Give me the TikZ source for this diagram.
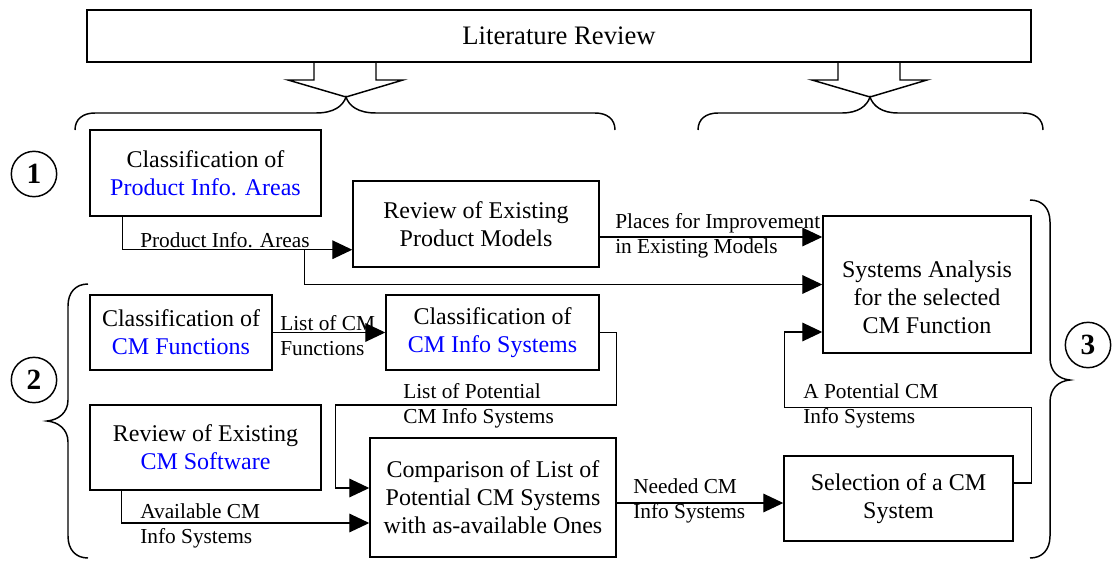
\documentclass[tikz,border=0pt]{standalone}
\usepackage{fontspec}
\setmainfont{Liberation Serif}
\usetikzlibrary{arrows.meta,calc}
\definecolor{infoblue}{RGB}{0,0,255}
\tikzset{
  box/.style={draw, line width=1.1pt, inner sep=0pt, align=center, font=\fontsize{18}{21}\selectfont},
  lbl/.style={inner sep=0pt, anchor=west, align=left, font=\fontsize{16}{18.75}\selectfont},
  flow/.style={line width=0.9pt, -{Triangle[length=15pt,width=14pt]}},
  brc/.style={line width=1.1pt},
  num/.style={draw, circle, line width=1.1pt, minimum size=34pt, inner sep=0pt, font=\fontsize{22}{22}\selectfont\bfseries}
}
\begin{document}
\begin{tikzpicture}[x=0.75pt,y=0.75pt,yscale=-1,xscale=1]
\useasboundingbox (0,0) rectangle (1112,560);

%Shape: Rectangle
\node[box, minimum width=708pt, minimum height=39pt, font=\fontsize{20}{24}\selectfont] (lit) at (559,36) {Literature Review};

%Block arrows under the literature box
\draw[brc] (314,62) -- (314,80) -- (288,80) -- (346,97) -- (403,80) -- (376,80) -- (376,62) ;
\draw[brc] (838,62) -- (838,80) -- (812,80) -- (870,97) -- (927,80) -- (900,80) -- (900,62) ;

%Braces
\draw[brc] (75,130) .. controls (75,119) and (83,113) .. (95,113) -- (316,113) .. controls (334,113) and (343,106) .. (346,97) .. controls (349,106) and (358,113) .. (376,113) -- (595,113) .. controls (607,113) and (615,119) .. (615,130) ;
\draw[brc] (698,130) .. controls (698,119) and (706,113) .. (718,113) -- (842,113) .. controls (858,113) and (867,106) .. (870,97) .. controls (873,106) and (882,113) .. (898,113) -- (1023,113) .. controls (1035,113) and (1043,119) .. (1043,130) ;
\draw[brc] (88,284) .. controls (76,284) and (68,292) .. (68,306) -- (68,400) .. controls (68,413) and (58,420) .. (47,421) .. controls (58,422) and (68,429) .. (68,442) -- (68,536) .. controls (68,550) and (76,558) .. (88,558) ;
\draw[brc] (1030,200) .. controls (1042,200) and (1050,208) .. (1050,222) -- (1050,358) .. controls (1050,371) and (1058,379) .. (1070,380) .. controls (1058,381) and (1050,389) .. (1050,402) -- (1050,536) .. controls (1050,550) and (1042,558) .. (1030,558) ;

%Numbers
\node[num] (n1) at (34,174) {1};
\node[num] (n2) at (34,380) {2};
\node[num] (n3) at (1088,345) {3};

%Shape: Rectangle
\node[box, minimum width=173.25pt, minimum height=64.5pt] (cpia) at (205.5,173) {Classification of\\\textcolor{infoblue}{Product Info. Areas}};
\node[box, minimum width=184.5pt, minimum height=64.5pt] (repm) at (476,224) {Review of Existing\\Product Models};
\node[box, minimum width=156pt, minimum height=102.75pt] (sys) at (927,284.5) {};
\node[box, draw=none] (sysT) at ($(sys.center)+(0,13)$) {Systems Analysis\\for the selected\\CM Function};
\node[box, minimum width=136.5pt, minimum height=56.25pt] (ccmf) at (181,332.5) {Classification of\\\textcolor{infoblue}{CM Functions}};
\node[box, minimum width=159.75pt, minimum height=56.25pt] (ccmi) at (492.5,332.5) {Classification of\\\textcolor{infoblue}{CM Info Systems}};
\node[box, minimum width=173.25pt, minimum height=63.75pt] (rcms) at (205.5,447.5) {Review of Existing\\\textcolor{infoblue}{CM Software}};
\node[box, minimum width=184.5pt, minimum height=89.25pt] (comp) at (493,497.5) {Comparison of List of\\Potential CM Systems\\with as-available Ones};
\node[box, minimum width=171.75pt, minimum height=63.75pt] (sel) at (898.5,498.5) {Selection of a CM\\System};

%Straight Lines
\draw[flow] ($(cpia.south west)+(33,0)$) |- ($(repm.south west)+(0,-18)$) ;
\draw[flow] ($(repm.south west)+(-48,-18)$) |- (sys.west) ;
\draw[flow] ($(repm.east)+(0,13)$) -- ($(sys.west |- repm.east)+(0,13)$) ;
\draw[flow] (ccmf.east) -- (ccmi.west) ;
\draw[flow] (ccmi.east) -- ++(17,0) |- ($(comp.west)+(-34,-92.5)$) |- ($(comp.west)+(0,-9.5)$) ;
\draw[flow] ($(rcms.south west)+(32,0)$) |- ($(comp.west)+(0,25.5)$) ;
\draw[flow] ($(comp.east)+(0,5.5)$) -- ($(sel.west)+(0,4.5)$) ;
\draw[flow] ($(sel.east)+(0,-15.5)$) -- ++(18,0) |- ($(sel.north west)+(1,-48)$) |- ($(sys.west)+(0,47.5)$) ;

% Text Node
\node[lbl] (lPia) at (140,240) {Product Info. Areas};
\node[lbl] (lPlaces) at (615,236) {Places for Improvement\\in Existing Models};
\node[lbl] (lListCM) at (280,336) {List of CM\\Functions};
\node[lbl] (lListPot) at (403,405.5) {List of Potential\\CM Info Systems};
\node[lbl] (lAvail) at (140,526) {Available CM\\Info Systems};
\node[lbl] (lNeeded) at (633,500.5) {Needed CM\\Info Systems};
\node[lbl] (lAPot) at (803,406) {A Potential CM\\Info Systems};

\end{tikzpicture}
\end{document}
